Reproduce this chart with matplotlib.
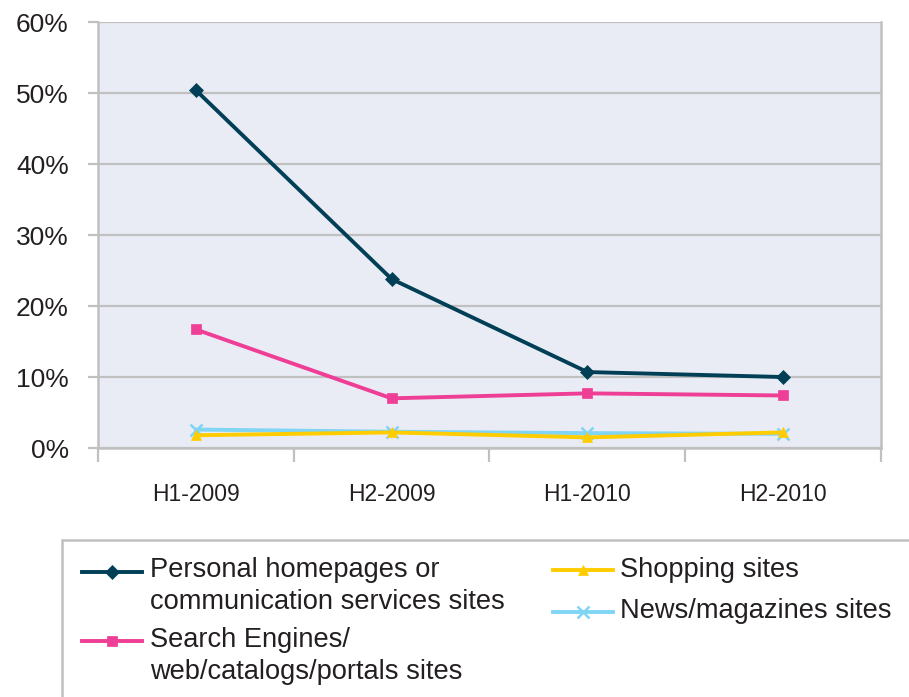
import matplotlib.pyplot as plt
from matplotlib.lines import Line2D
from matplotlib.patches import Rectangle
from matplotlib.ticker import FixedLocator, FuncFormatter

plt.rcParams['font.family'] = ['Liberation Sans', 'DejaVu Sans']

periods = ["H1-2009", "H2-2009", "H1-2010", "H2-2010"]
personal = [50.4, 23.8, 10.7, 10.0]
search = [16.7, 7.0, 7.7, 7.4]
shopping = [1.8, 2.2, 1.5, 2.2]
news = [2.6, 2.3, 2.1, 2.0]

labels = [
    "Personal homepages or\ncommunication services sites",
    "Search Engines/\nweb/catalogs/portals sites",
    "Shopping sites",
    "News/magazines sites",
]
colors = ["#003f55", "#ee3e96", "#ffcc00", "#80d4f4"]
markers = ["D", "s", "^", "x"]
text_col = "#231f20"
grid_col = "#c0c0c0"

fig = plt.figure(figsize=(9.09, 6.97), dpi=100)
ax = fig.add_axes([0.1078, 0.3572, 0.8614, 0.6112])
ax.set_facecolor("#eaecf5")

x = list(range(len(periods)))
series = [personal, search, shopping, news]
z = [5, 4, 3, 2]
for vals, c, m, lab, zz in zip(series, colors, markers, labels, z):
    ax.plot(x, vals, color=c, marker=m, markersize=8 if m == "x" else 7,
            linewidth=2.8, markeredgewidth=1.8 if m == "x" else 0.5,
            label=lab, zorder=zz, clip_on=False)

ax.set_xlim(-0.5, 3.5)
ax.set_ylim(0, 60)

ax.yaxis.set_major_locator(FixedLocator([0, 10, 20, 30, 40, 50, 60]))
ax.yaxis.set_major_formatter(FuncFormatter(lambda v, p: f"{v:.0f}%"))
ax.grid(axis="y", color=grid_col, linewidth=1.6, zorder=0)
ax.set_axisbelow(True)

ax.set_xticks(x)
ax.set_xticklabels(periods)
ax.set_xticks([-0.5, 0.5, 1.5, 2.5, 3.5], minor=True)
ax.tick_params(axis="x", which="major", length=0, pad=25, labelsize=16.5,
               labelcolor=text_col)
ax.tick_params(axis="x", which="minor", length=10, width=1.6, color=grid_col)
ax.tick_params(axis="y", length=7, width=1.6, color=grid_col, pad=14,
               labelsize=19, labelcolor=text_col)

for side in ["left", "bottom", "right"]:
    ax.spines[side].set_color(grid_col)
    ax.spines[side].set_linewidth(1.8)
ax.spines["top"].set_visible(False)

# legend drawn by hand inside an open-ended frame
fig.patches.append(Rectangle((62 / 909, -0.2), 1.0, 0.2 + 1 - 540 / 697,
                             transform=fig.transFigure, fill=False,
                             edgecolor=grid_col, linewidth=1.8))

entries = [
    (82, 572, 150, 586),
    (82, 641, 150, 656),
    (553, 570, 620, 570),
    (553, 612, 620, 611),
]
for (hx, hy, tx, ty), c, m, lab in zip(entries, colors, markers, labels):
    fy = 1 - hy / 697
    fig.add_artist(Line2D([hx / 909, (hx + 60) / 909], [fy, fy],
                          transform=fig.transFigure, color=c, linewidth=2.8,
                          zorder=3))
    fig.add_artist(Line2D([(hx + 30) / 909], [fy], transform=fig.transFigure,
                          color=c, marker=m, markersize=7 if m != "x" else 9,
                          markeredgewidth=1.8 if m == "x" else 0.5,
                          linestyle="none", zorder=4))
    fig.text(tx / 909, 1 - ty / 697, lab, fontsize=19.6, color=text_col,
             va="center", ha="left", linespacing=1.3)

fig.savefig("out.png", dpi=100)
